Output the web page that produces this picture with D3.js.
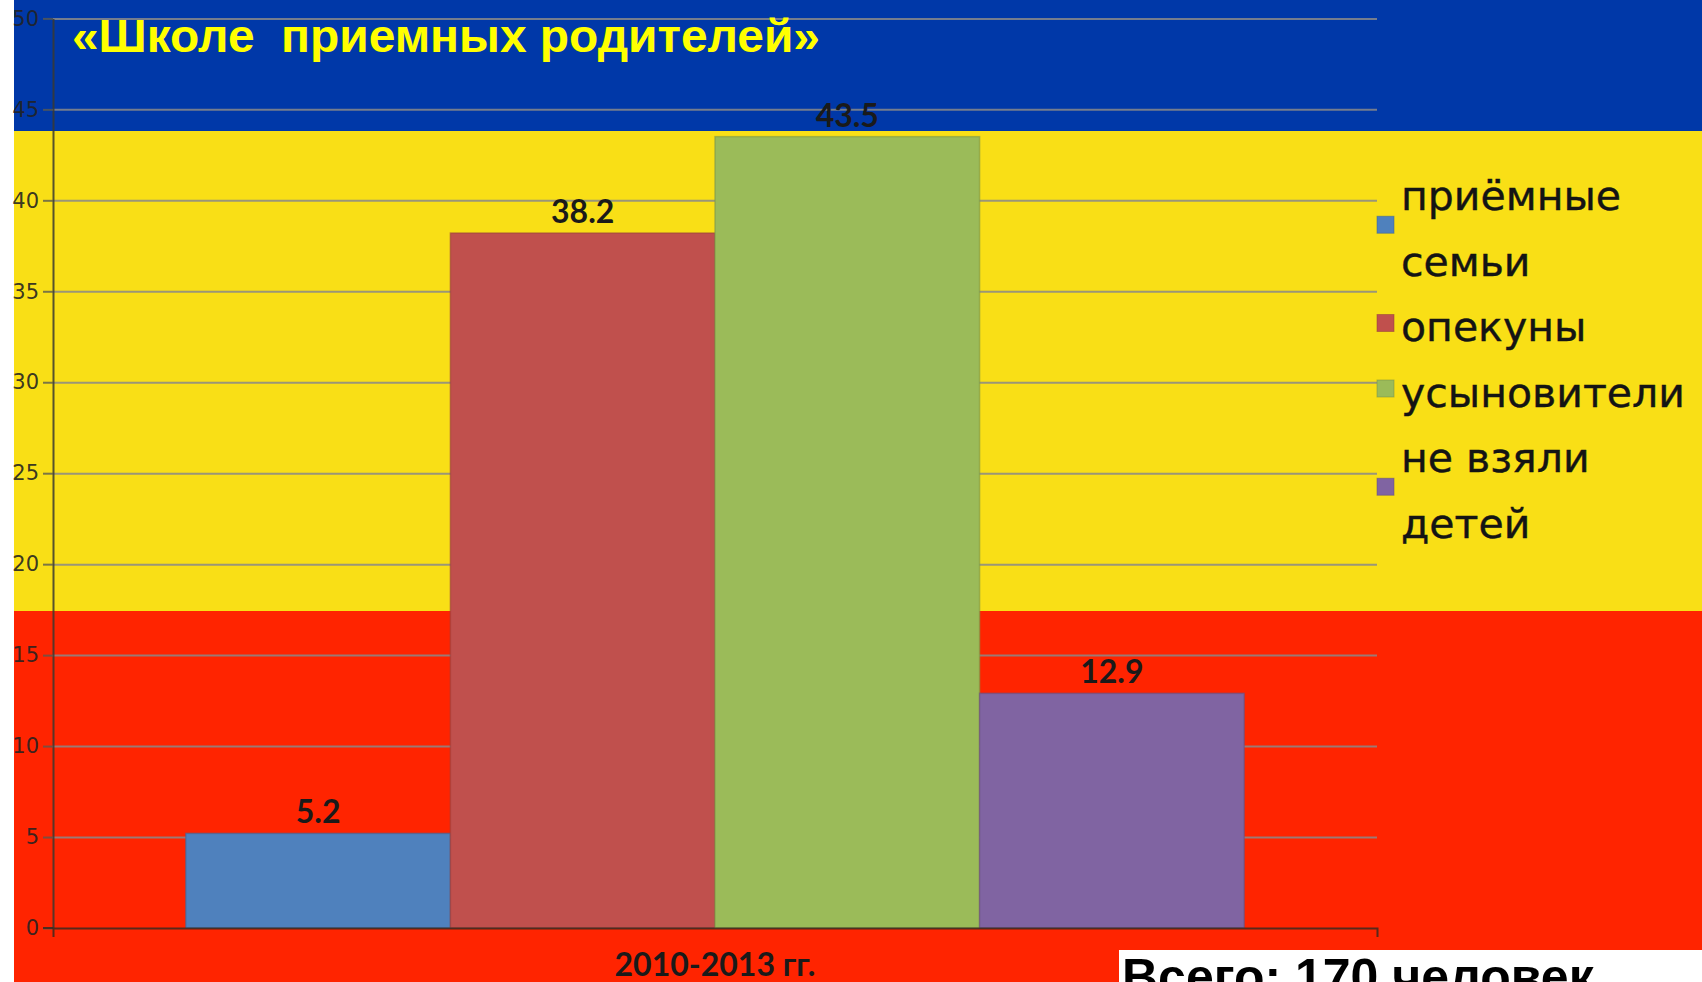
<!DOCTYPE html>
<html>
<head>
<meta charset="utf-8">
<script src="https://cdn.jsdelivr.net/npm/d3@7"></script>
<style>
  html, body { margin: 0; padding: 0; background: #ffffff; overflow: hidden; }
  svg { display: block; }
</style>
</head>
<body>
<svg id="chart" width="1702" height="982"></svg>
<script>
// ---- Data ----
const categories = ["2010-2013 гг."];
const seriesNames = ["приёмные семьи", "опекуны", "усыновители", "не взяли детей"];
const legendLines = [["приёмные", "семьи"], ["опекуны"], ["усыновители"], ["не взяли", "детей"]];
const values = [5.2, 38.2, 43.5, 12.9];
const seriesColors = ["#4f81bd", "#c0504d", "#9bbb59", "#8064a2"];
const yTicks = [0, 5, 10, 15, 20, 25, 30, 35, 40, 45, 50];
const titleText = "«Школе  приемных родителей»";
const totalText = "Всего: 170 человек";

// ---- Layout ----
const W = 1702, H = 982;
const plot = { left: 53, right: 1377, top: 18.4, bottom: 928 };

const svg = d3.select("#chart");

// slide background bands
svg.append("rect").attr("x", 0).attr("y", 0).attr("width", W).attr("height", H).attr("fill", "#ffffff");
svg.append("rect").attr("x", 14).attr("y", 0).attr("width", W - 14).attr("height", 131).attr("fill", "#0038a8");
svg.append("rect").attr("x", 14).attr("y", 131).attr("width", W - 14).attr("height", 480).attr("fill", "#f9df16");
svg.append("rect").attr("x", 14).attr("y", 611).attr("width", W - 14).attr("height", H - 611).attr("fill", "#ff2400");

// scales
const y = d3.scaleLinear().domain([0, 50]).range([plot.bottom, plot.top]);
const x0 = d3.scaleBand().domain(categories).range([plot.left, plot.right]).paddingOuter(0.1255).paddingInner(0);
const x1 = d3.scaleBand().domain(seriesNames).range([0, x0.bandwidth()]).padding(0);

// gridlines
const grid = svg.append("g").attr("transform", `translate(${plot.left},0)`)
  .call(d3.axisLeft(y).tickValues(yTicks).tickSize(-(plot.right - plot.left)).tickFormat(""));
grid.select(".domain").remove();
grid.selectAll(".tick line").attr("stroke", "#8a8a8a").attr("stroke-width", 2).attr("stroke-opacity", 0.85);
grid.selectAll(".tick").filter(d => d === 0).remove();

// y axis
const yAxis = svg.append("g").attr("transform", `translate(${plot.left},0)`)
  .call(d3.axisLeft(y).tickValues(yTicks).tickSizeInner(10).tickSizeOuter(0).tickPadding(4));
yAxis.select(".domain").attr("stroke", "#3a3a30").attr("stroke-width", 2).attr("stroke-opacity", 0.85);
yAxis.selectAll(".tick line").attr("stroke", "#5a5a50").attr("stroke-width", 2).attr("stroke-opacity", 0.8);
yAxis.selectAll(".tick text")
  .attr("font-family", "'DejaVu Sans', Verdana, sans-serif")
  .attr("font-size", 21)
  .attr("fill", "#222222")
  .attr("fill-opacity", 0.9);

// bars
const groups = svg.append("g").selectAll("g").data(categories).join("g")
  .attr("transform", d => `translate(${x0(d)},0)`);

groups.selectAll("rect").data(() => seriesNames.map((s, i) => ({ s, v: values[i], c: seriesColors[i] })))
  .join("rect")
  .attr("x", d => x1(d.s))
  .attr("y", d => y(d.v))
  .attr("width", x1.bandwidth())
  .attr("height", d => y(0) - y(d.v))
  .attr("fill", d => d.c)
  .attr("stroke", d => d3.color(d.c).darker(0.6))
  .attr("stroke-opacity", 0.6)
  .attr("stroke-width", 1.5);

groups.selectAll("text.val").data(() => seriesNames.map((s, i) => ({ s, v: values[i] })))
  .join("text")
  .attr("class", "val")
  .attr("x", d => x1(d.s) + x1.bandwidth() / 2)
  .attr("y", d => y(d.v) - 10)
  .attr("text-anchor", "middle")
  .attr("font-family", "Lato, 'Open Sans', sans-serif")
  .attr("font-weight", 700)
  .attr("font-size", 32)
  .attr("fill", "#1a1a1a")
  .text(d => d.v.toFixed(1));

// x axis
const xAxis = svg.append("g").attr("transform", `translate(0,${plot.bottom})`)
  .call(d3.axisBottom(x0).tickSizeInner(0).tickSizeOuter(9).tickPadding(25));
xAxis.select(".domain").attr("stroke", "#3a2a20").attr("stroke-width", 2).attr("stroke-opacity", 0.85);
xAxis.selectAll(".tick text")
  .attr("font-family", "Lato, 'Open Sans', sans-serif")
  .attr("font-weight", 700)
  .attr("font-size", 32)
  .attr("fill", "#1a1a1a");
// extend y-axis below zero like original
svg.append("line").attr("x1", plot.left).attr("x2", plot.left - 10).attr("y1", plot.bottom).attr("y2", plot.bottom)
  .attr("stroke", "#3a2a20").attr("stroke-width", 2).attr("stroke-opacity", 0.85);

// legend
const legend = svg.append("g").attr("transform", "translate(1377,0)");
const firstBaseline = 210, lineH = 65.5;
let lineIdx = 0;
legendLines.forEach((lines, i) => {
  const b0 = firstBaseline + lineIdx * lineH;
  const cy = b0 + (lines.length - 1) * lineH / 2 - 18;
  legend.append("rect")
    .attr("x", 0).attr("y", cy - 8.5).attr("width", 17).attr("height", 17)
    .attr("fill", seriesColors[i])
    .attr("stroke", d3.color(seriesColors[i]).darker(0.8)).attr("stroke-opacity", 0.5).attr("stroke-width", 1);
  lines.forEach((ln, j) => {
    legend.append("text")
      .attr("x", 24).attr("y", b0 + j * lineH)
      .attr("font-family", "'DejaVu Sans', Verdana, sans-serif")
      .attr("font-size", 41)
      .attr("fill", "#141414")
      .attr("stroke", "#141414")
      .attr("stroke-width", 0.4)
      .text(ln);
  });
  lineIdx += lines.length;
});

// title (yellow on blue)
svg.append("text")
  .attr("x", 72).attr("y", 52)
  .attr("font-family", "'Liberation Sans', Arial, sans-serif")
  .attr("font-weight", 700)
  .attr("font-size", 46)
  .attr("fill", "#ffff00")
  .attr("textLength", 748)
  .attr("lengthAdjust", "spacingAndGlyphs")
  .style("white-space", "pre")
  .attr("xml:space", "preserve")
  .text(titleText);

// total box
svg.append("rect").attr("x", 1119).attr("y", 950).attr("width", W - 1119).attr("height", H - 950).attr("fill", "#ffffff");
svg.append("text")
  .attr("x", 1122).attr("y", 994)
  .attr("font-family", "'Liberation Sans', Arial, sans-serif")
  .attr("font-weight", 700)
  .attr("font-size", 50)
  .attr("fill", "#000000")
  .text(totalText);
</script>
</body>
</html>
